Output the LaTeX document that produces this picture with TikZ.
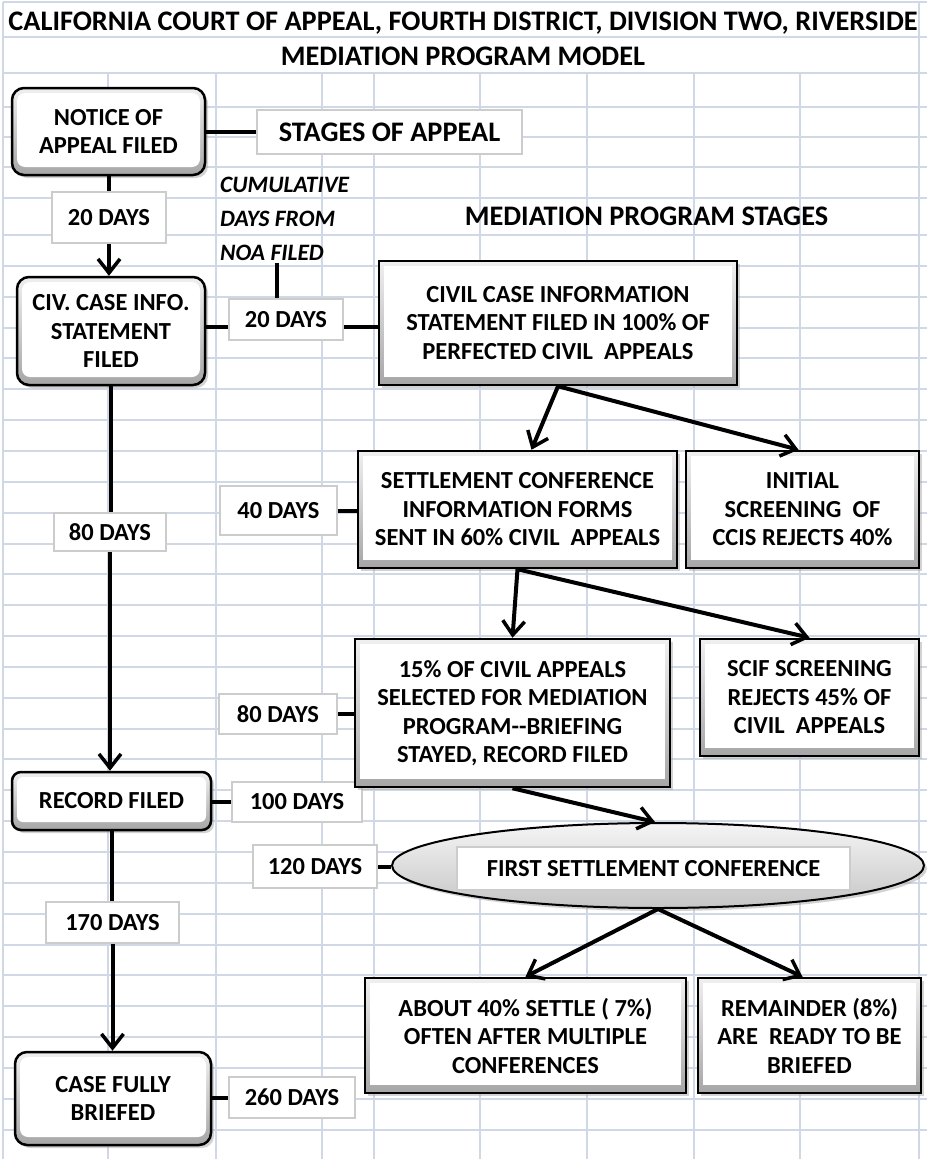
\documentclass[tikz,border=0pt]{standalone}
\usepackage{fontspec}
\setmainfont{Carlito}
\usepackage{tikz}
\usetikzlibrary{arrows.meta,shapes.geometric,shadows}
\definecolor{gridline}{RGB}{208,215,229}
\tikzset{
  gridln/.style={draw=gridline,line width=2pt},
  boxfont/.style={font=\bfseries\fontsize{24.5}{28.5}\selectfont},
  headfont/.style={font=\bfseries\fontsize{28.3}{32}\selectfont},
  bevel/.style={path picture={\fill[white,rounded corners=#1]
    ([shift={(5pt,8pt)}]path picture bounding box.south west) rectangle
    ([shift={(-5pt,-5pt)}]path picture bounding box.north east);}},
  dotshadow/.style={drop shadow={shadow xshift=3pt,shadow yshift=-3pt,fill=gray!70,opacity=.5}},
  stagebox/.style={draw=black,line width=2.5pt,rounded corners=12pt,
    top color=gray!12,bottom color=gray!70,bevel=8pt,dotshadow,
    inner sep=0pt,align=center,boxfont},
  progbox/.style={draw=black,line width=2.5pt,
    top color=gray!12,bottom color=gray!70,bevel=0pt,dotshadow,
    inner sep=0pt,align=center,boxfont},
  daybox/.style={draw=gray!40,line width=2.5pt,fill=white,
    inner sep=0pt,align=center,boxfont},
  conn/.style={line width=4pt},
  arr/.style={conn,-{Straight Barb[length=14pt,width=22pt,line width=3.5pt]}}
}
\begin{document}
\begin{tikzpicture}[x=1pt,y=-1pt]
\useasboundingbox[fill=white] (0,0) rectangle (927,1159);
% Sheet grid
\foreach \gy in {2,37,73,107,137,167,198,235}
  \draw[gridln] (3,\gy) -- (927,\gy);
\foreach \k in {1,...,30}
  \draw[gridln] (3,235+30.85*\k) -- (927,235+30.85*\k);
\foreach \gx in {108,216,322,374,480,587,694,800}
  \draw[gridln] (\gx,73) -- (\gx,1159);
\draw[gridln] (3,2) -- (3,1159);
\draw[gridln] (919,2) -- (919,1159);

% Titles
\node[headfont,anchor=base,inner sep=0pt] (title) at (463,30)
  {CALIFORNIA COURT OF APPEAL, FOURTH DISTRICT, DIVISION TWO, RIVERSIDE};
\node[headfont,anchor=base,inner sep=0pt] (subtitle) at (463,65)
  {MEDIATION PROGRAM MODEL};

% Stages of appeal
\node[stagebox,minimum width=193pt,minimum height=87pt] (notice) at (108.5,131.5) {NOTICE OF\\APPEAL FILED};
\node[daybox,minimum width=114pt,minimum height=51pt] (d20a) at (109,217.5) {20 DAYS};
\node[stagebox,minimum width=188pt,minimum height=108pt] (ccisfiled) at (111,331) {CIV. CASE INFO.\\STATEMENT\\FILED};
\node[daybox,minimum width=112pt,minimum height=38pt] (d80a) at (110,532) {80 DAYS};
\node[stagebox,rounded corners=9pt,bevel=6pt,minimum width=199pt,minimum height=58pt] (record) at (111.5,801) {RECORD FILED};
\node[daybox,minimum width=133pt,minimum height=41pt] (d170) at (112.5,922.5) {170 DAYS};
\node[stagebox,minimum width=196pt,minimum height=93pt] (briefed) at (113,1098.5) {CASE FULLY\\BRIEFED};

\node[daybox,minimum width=265pt,minimum height=44pt,headfont] (stages) at (389.5,132) {STAGES OF APPEAL};
\node[font=\bfseries\itshape\fontsize{23.5}{34}\selectfont,align=left,anchor=base west,inner sep=0pt] (cumul) at (220,260) {CUMULATIVE\\DAYS FROM\\NOA FILED};
\coordinate (noafoot) at (277,263);
\coordinate (civline) at (0,327);

% Cumulative days
\node[daybox,minimum width=114pt,minimum height=41pt] (d20b) at (286,319.5) {20 DAYS};
\node[daybox,minimum width=117pt,minimum height=49pt] (d40) at (278.5,510.5) {40 DAYS};
\node[daybox,minimum width=118pt,minimum height=40pt] (d80b) at (278,714) {80 DAYS};
\node[daybox,minimum width=130pt,minimum height=40pt] (d100) at (297,802) {100 DAYS};
\node[daybox,minimum width=124pt,minimum height=43pt] (d120) at (315,866.5) {120 DAYS};
\node[daybox,minimum width=126pt,minimum height=41pt] (d260) at (292,1097.5) {260 DAYS};

% Mediation program stages
\node[headfont,anchor=base,inner sep=0pt] (progstages) at (646.5,225) {MEDIATION PROGRAM STAGES};
\node[progbox,minimum width=358pt,minimum height=124pt] (ccis) at (558,323)
  {CIVIL CASE INFORMATION\\STATEMENT FILED IN 100\% OF\\PERFECTED CIVIL\ \ APPEALS};
\node[progbox,minimum width=319pt,minimum height=117pt] (settle) at (517.5,509.5)
  {SETTLEMENT CONFERENCE\\INFORMATION FORMS\\SENT IN 60\% CIVIL\ \ APPEALS};
\node[progbox,minimum width=233pt,minimum height=117pt] (initial) at (802.5,509.5)
  {INITIAL\\SCREENING\ \ OF\\CCIS REJECTS 40\%};
\node[progbox,minimum width=315pt,minimum height=148pt] (select) at (512.5,713)
  {15\% OF CIVIL APPEALS\\SELECTED FOR MEDIATION\\PROGRAM-{}-BRIEFING\\STAYED, RECORD FILED};
\node[progbox,minimum width=219pt,minimum height=117pt] (scif) at (809.5,697.5)
  {SCIF SCREENING\\REJECTS 45\% OF\\CIVIL\ \ APPEALS};
\node[ellipse,draw=black,line width=2pt,top color=gray!8,bottom color=gray!45,dotshadow,
  minimum width=532pt,minimum height=85pt] (conf) at (658,865.5) {};
\node[daybox,minimum width=393pt,minimum height=43pt] (confname) at (653.5,868.5) {FIRST SETTLEMENT CONFERENCE};
\node[progbox,minimum width=321pt,minimum height=115pt] (settled) at (525.5,1035.5)
  {ABOUT 40\% SETTLE ( 7\%)\\OFTEN AFTER MULTIPLE\\CONFERENCES};
\node[progbox,minimum width=223pt,minimum height=115pt] (remain) at (809.5,1035.5)
  {REMAINDER (8\%)\\ARE\ \ READY TO BE\\BRIEFED};

% Connectors, left column
\draw[conn] (notice.south) -- (notice.south |- d20a.north);
\draw[arr] (d20a.south) -- (d20a.south |- ccisfiled.north);
\draw[conn] (ccisfiled.south) -- (ccisfiled.south |- d80a.north);
\draw[arr] (d80a.south) -- (d80a.south |- record.north);
\draw[conn] (record.south) -- (record.south |- d170.north);
\draw[arr] (d170.south) -- (d170.south |- briefed.north);
\draw[conn] (notice.east) -- (notice.east -| stages.west);
\draw[conn] (ccisfiled.east |- civline) -- (d20b.west |- civline);
\draw[conn] (record.east |- d100) -- (d100.west);
\draw[conn] (briefed.east |- d260) -- (d260.west);

% Connectors, program
\draw[conn] (noafoot) -- (noafoot |- d20b.north);
\draw[conn] (d20b.east |- civline) -- (ccis.west |- civline);
\draw[conn] (d40.east) -- (d40.east -| settle.west);
\draw[conn] (d80b.east) -- (d80b.east -| select.west);
\draw[conn] (d120.east) -- (d120.east -| conf.west);
\draw[arr] (ccis.south) -- ([xshift=14pt]settle.north);
\draw[arr] (ccis.south) -- ([xshift=-4pt]initial.north);
\draw[arr] (settle.south) -- (select.north);
\draw[arr] (settle.south) -- (scif.north);
\draw[arr] (select.south) -- ([xshift=-3pt]conf.north);
\draw[arr] (conf.south) -- (settled.north);
\draw[arr] (conf.south) -- ([xshift=-7pt]remain.north);
\end{tikzpicture}
\end{document}
